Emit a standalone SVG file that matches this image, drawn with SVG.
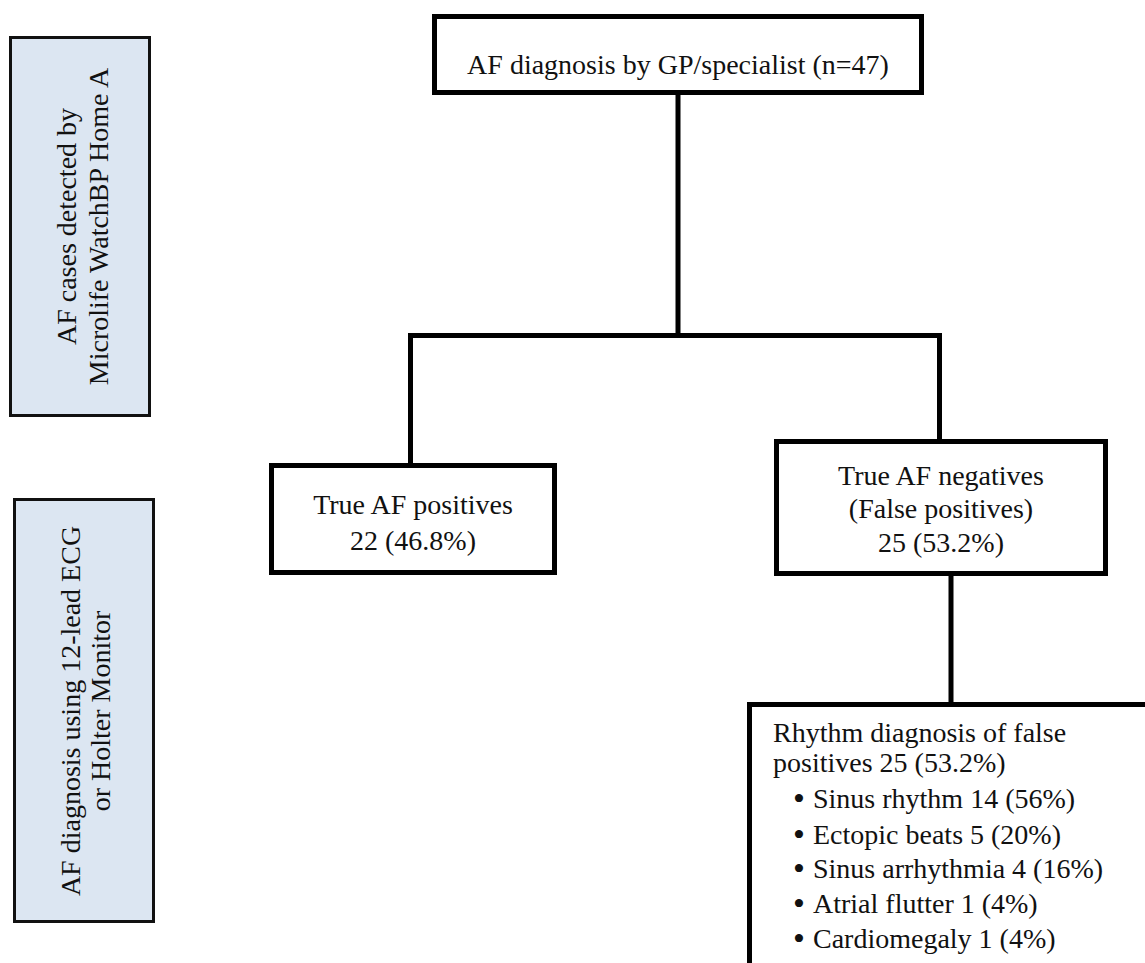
<svg xmlns="http://www.w3.org/2000/svg" width="1145" height="963" viewBox="0 0 1145 963">
<style>
text{font-family:"Liberation Serif","Times New Roman",serif;font-size:28px;fill:#111}
.c{text-anchor:middle}
.b{font-size:34px}
.box{fill:#fff;stroke:#000;stroke-width:5}
.side{fill:#dce6f2;stroke:#111;stroke-width:3}
.ln{fill:none;stroke:#000;stroke-width:5;stroke-linecap:butt}
</style>
<rect width="1145" height="963" fill="#fff"/>
<g id="connectors">
<line class="ln" x1="678" y1="94" x2="678" y2="336"/>
<polyline class="ln" points="410.5,466 410.5,335.5 939.5,335.5 939.5,442"/>
<line class="ln" x1="951" y1="574" x2="951" y2="705"/>
</g>
<g id="label-device">
<rect class="side" x="10.5" y="37.5" width="139" height="378"/>
<text class="c" transform="translate(76,226.5) rotate(-90)">AF cases detected by</text>
<text class="c" transform="translate(108,226.5) rotate(-90)">Microlife WatchBP Home A</text>
</g>
<g id="label-ecg">
<rect class="side" x="14.5" y="499.5" width="139" height="422"/>
<text class="c" transform="translate(80,711) rotate(-90)">AF diagnosis using 12-lead ECG</text>
<text class="c" transform="translate(110,711) rotate(-90)">or Holter Monitor</text>
</g>
<g id="node-gp">
<rect class="box" x="434.5" y="16.5" width="487" height="76"/>
<text class="c" x="678" y="74">AF diagnosis by GP/specialist (n=47)</text>
</g>
<g id="node-true-pos">
<rect class="box" x="271.5" y="465.5" width="283" height="107"/>
<text class="c" x="413" y="514">True AF positives</text>
<text class="c" x="413" y="550">22 (46.8%)</text>
</g>
<g id="node-true-neg">
<rect class="box" x="776.5" y="441.5" width="329" height="132"/>
<text class="c" x="941" y="485">True AF negatives</text>
<text class="c" x="941" y="518">(False positives)</text>
<text class="c" x="941" y="552">25 (53.2%)</text>
</g>
<g id="node-rhythm">
<rect class="box" x="749.5" y="704.5" width="500" height="400"/>
<text x="773" y="742">Rhythm diagnosis of false</text>
<text x="773" y="772">positives 25 (53.2%)</text>
<text x="793" y="808"><tspan class="b" dy="1.5">•</tspan><tspan x="813" dy="-1.5">Sinus rhythm 14 (56%)</tspan></text>
<text x="793" y="844"><tspan class="b" dy="1.5">•</tspan><tspan x="813" dy="-1.5">Ectopic beats 5 (20%)</tspan></text>
<text x="793" y="878"><tspan class="b" dy="1.5">•</tspan><tspan x="813" dy="-1.5">Sinus arrhythmia 4 (16%)</tspan></text>
<text x="793" y="913"><tspan class="b" dy="1.5">•</tspan><tspan x="813" dy="-1.5">Atrial flutter 1 (4%)</tspan></text>
<text x="793" y="948"><tspan class="b" dy="1.5">•</tspan><tspan x="813" dy="-1.5">Cardiomegaly 1 (4%)</tspan></text>
</g>
</svg>
